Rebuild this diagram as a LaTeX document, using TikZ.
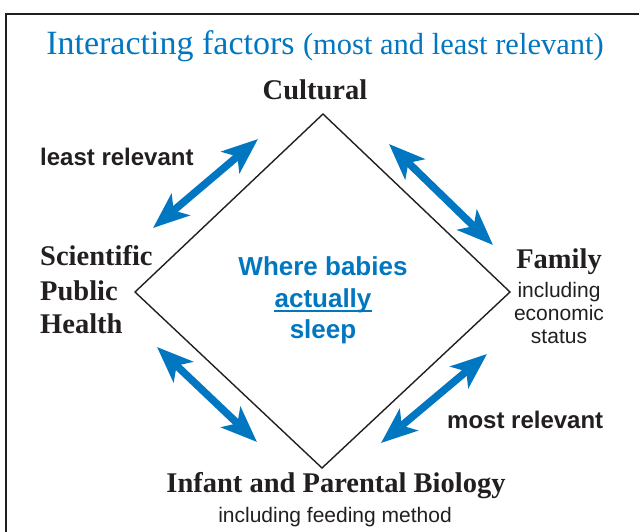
\documentclass[tikz,border=0pt]{standalone}
\usepackage{fontspec}
\setmainfont{Liberation Serif}
\newfontfamily\sansfont{Liberation Sans}
\usetikzlibrary{arrows.meta,calc}
\definecolor{accent}{HTML}{0077C0}
\definecolor{ink}{HTML}{231F20}

\begin{document}
\begin{tikzpicture}[x=1pt,y=-1pt,
  factor/.style={font=\fontsize{28.5}{31}\selectfont\bfseries, text=ink, inner sep=0pt, anchor=base},
  factorleft/.style={factor, anchor=base west},
  note/.style={font=\sansfont\fontsize{21}{24}\selectfont, text=ink, inner sep=0pt, anchor=base},
  relev/.style={font=\sansfont\bfseries\fontsize{24}{27}\selectfont, text=ink, inner sep=0pt, anchor=base west},
  centre/.style={font=\sansfont\bfseries\fontsize{26}{30}\selectfont, text=accent, inner sep=0pt, anchor=base},
  barb/.tip={Stealth[length=36pt,width=28pt,inset=9pt]},
  link/.style={draw=accent, line width=7.5pt, barb-barb},
]
\useasboundingbox (0,0) rectangle (639,531);
\clip (0,0) rectangle (639,531);

% outer frame
\draw[line width=2pt, ink] (6,14) rectangle (660,560);

% title
\node[inner sep=0pt, anchor=base, text=accent] (title) at (325,54)
  {\fontsize{34}{37}\selectfont Interacting factors \fontsize{30.5}{33}\selectfont(most and least relevant)};

% diamond corners
\coordinate (dtop) at (323,114);
\coordinate (dright) at (510,292);
\coordinate (dbottom) at (322,468);
\coordinate (dleft) at (135,292);
\draw[line width=1.4pt, ink] (dtop) -- (dright) -- (dbottom) -- (dleft) -- cycle;

% centre text
\node[centre] (where) at (323,275) {Where babies};
\node[centre] (act) at (323,307) {actually};
\node[centre] (sleep) at (323,338) {sleep};
\draw[accent, line width=2pt] ($(act.base west)+(0,4)$) -- ($(act.base east)+(0,4)$);

% factors
\node[factor] (cultural) at (315,99) {Cultural};
\node[factorleft] (sci) at (40,265) {Scientific};
\node[factorleft] (pub) at (40,300) {Public};
\node[factorleft] (health) at (40,333) {Health};
\node[factor] (family) at (559,268) {Family};
\node[note] (fam1) at (559,297) {including};
\node[note] (fam2) at (559,320) {economic};
\node[note] (fam3) at (559,343) {status};
\node[factor] (bio) at (336,492) {Infant and Parental Biology};
\node[note] (bio1) at (335,522) {including feeding method};

% relevance labels
\node[relev] (least) at (40,165) {least relevant};
\node[relev] (most) at (447,428) {most relevant};

% interaction arrows
\coordinate (a1) at (153,228); \coordinate (a2) at (258,139);
\coordinate (b1) at (389,144); \coordinate (b2) at (493,245);
\coordinate (c1) at (157,347); \coordinate (c2) at (257,442);
\coordinate (d1) at (487,354); \coordinate (d2) at (381,443);
\draw[link] (a1) -- (a2);
\draw[link] (b1) -- (b2);
\draw[link] (c1) -- (c2);
\draw[link] (d1) -- (d2);
\end{tikzpicture}
\end{document}
